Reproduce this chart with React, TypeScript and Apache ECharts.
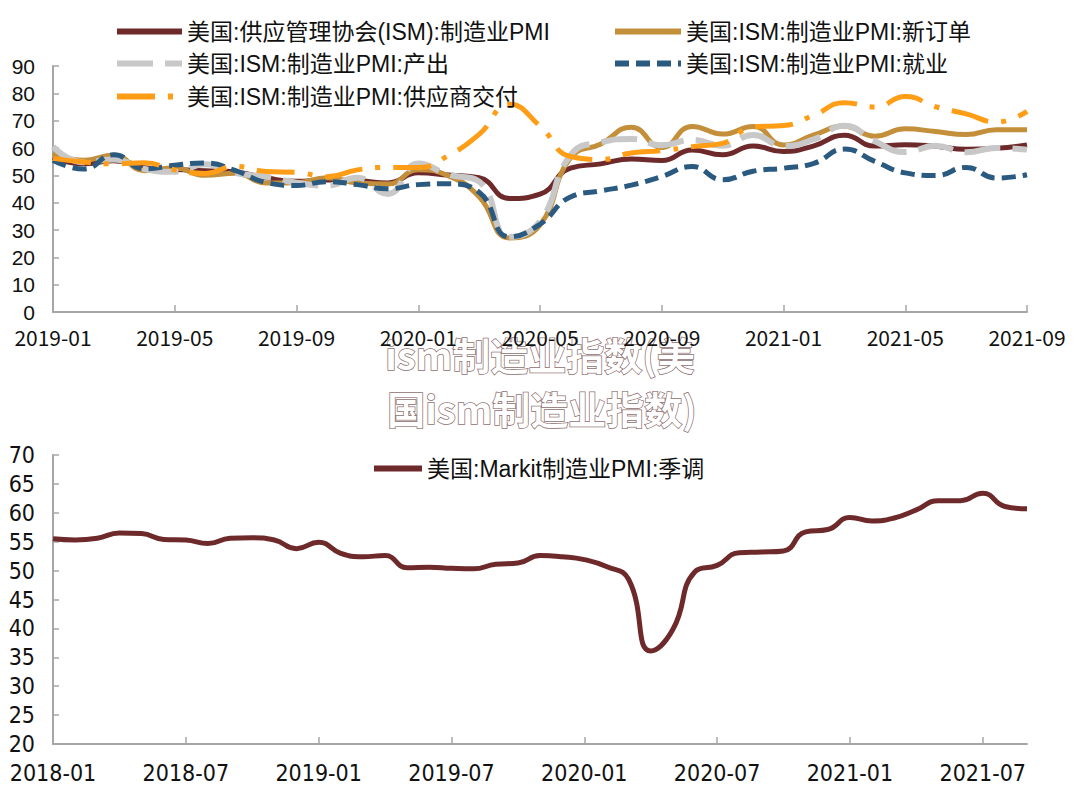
import React, { useEffect, useRef } from "react";
import * as echarts from "echarts";

// ---------- Chart 1: ISM ----------
const months1 = [
  "2019-01","2019-02","2019-03","2019-04","2019-05","2019-06","2019-07","2019-08","2019-09","2019-10","2019-11","2019-12",
  "2020-01","2020-02","2020-03","2020-04","2020-05","2020-06","2020-07","2020-08","2020-09","2020-10","2020-11","2020-12",
  "2021-01","2021-02","2021-03","2021-04","2021-05","2021-06","2021-07","2021-08","2021-09",
];
const ismPMI = [56.6,54.2,55.3,52.8,52.1,51.7,51.2,49.1,47.8,48.3,48.1,47.2,50.9,50.1,49.1,41.5,43.1,52.6,54.2,56.0,55.4,59.3,57.5,60.7,58.7,60.8,64.7,60.7,61.2,60.6,59.5,59.9,61.1];
const newOrders = [58.2,55.5,57.4,51.7,52.7,50.0,50.8,47.2,47.3,49.1,47.2,46.8,52.0,49.8,42.2,27.1,31.8,56.4,61.5,67.6,60.2,67.9,65.1,67.9,61.1,64.8,68.0,64.3,67.0,66.0,64.9,66.7,66.7];
const production = [60.5,54.8,55.8,52.3,51.3,54.1,50.8,49.5,47.3,46.2,49.1,43.2,54.3,50.3,47.7,27.5,33.2,57.3,62.1,63.3,61.0,63.0,60.8,64.8,60.7,63.2,68.1,62.5,58.5,60.8,58.4,60.0,59.4];
const employment = [55.5,52.3,57.5,52.4,53.7,54.5,51.7,47.4,46.3,47.7,46.6,45.1,46.6,46.9,43.8,27.5,32.1,42.1,44.3,46.4,49.6,53.2,48.4,51.5,52.6,54.4,59.6,55.1,50.9,49.9,52.9,49.0,50.2];
const supplierDeliveries = [56.2,54.9,54.2,54.6,52.0,50.7,53.3,51.4,51.1,49.5,52.0,52.9,52.9,57.3,65.0,76.0,68.0,56.9,55.8,58.2,59.0,60.5,61.7,67.7,68.2,72.0,76.6,75.0,78.8,75.1,72.5,69.5,73.4];

// ---------- Chart 2: Markit ----------
const months2 = [
  "2018-01","2018-02","2018-03","2018-04","2018-05","2018-06","2018-07","2018-08","2018-09","2018-10","2018-11","2018-12",
  "2019-01","2019-02","2019-03","2019-04","2019-05","2019-06","2019-07","2019-08","2019-09","2019-10","2019-11","2019-12",
  "2020-01","2020-02","2020-03","2020-04","2020-05","2020-06","2020-07","2020-08","2020-09","2020-10","2020-11","2020-12",
  "2021-01","2021-02","2021-03","2021-04","2021-05","2021-06","2021-07","2021-08","2021-09",
];
const markitPMI = [55.5,55.3,55.6,56.5,56.4,55.4,55.3,54.7,55.6,55.7,55.3,53.8,54.9,53.0,52.4,52.6,50.5,50.6,50.4,50.3,51.1,51.3,52.6,52.4,51.9,50.7,48.5,36.1,39.8,49.8,50.9,53.1,53.2,53.4,56.7,57.1,59.2,58.6,59.1,60.5,62.1,62.1,63.4,61.1,60.7];

const N_PMI = "美国:供应管理协会(ISM):制造业PMI";
const N_NEW = "美国:ISM:制造业PMI:新订单";
const N_PROD = "美国:ISM:制造业PMI:产出";
const N_EMP = "美国:ISM:制造业PMI:就业";
const N_SUP = "美国:ISM:制造业PMI:供应商交付";
const N_MARKIT = "美国:Markit制造业PMI:季调";

const watermark1 = "ism制造业指数(美";
const watermark2 = "国ism制造业指数)";

const C_MAROON = "#6E2A2B";
const C_GOLD = "#C38F3A";
const C_GRAY = "#C8C8C8";
const C_BLUE = "#2B5A80";
const C_ORANGE = "#FF9D17";

const AXIS_GRAY = "#A6A6A6";
const LATIN_CJK = "'Liberation Sans', 'Noto Sans CJK SC', sans-serif";
const NARROW = "'Liberation Sans Narrow', 'DejaVu Sans Condensed', 'Liberation Sans', sans-serif";

function legendFor(name: string, left: number, top: number, width: number, type: any, w = 6) {
  return {
    data: [name],
    left,
    top,
    padding: 0,
    itemWidth: width,
    itemHeight: 14,
    selectedMode: false,
    itemStyle: { opacity: 0, borderWidth: 0 },
    lineStyle: { width: w, type, opacity: 1 },
    textStyle: { fontSize: 23, color: "#111", fontFamily: LATIN_CJK },
  };
}

export default function App() {
  const ref = useRef<HTMLDivElement>(null);
  useEffect(() => {
    if (!ref.current) return;
    const chart = echarts.init(ref.current, null, { renderer: "svg" });
    const dashProd = [36, 12];
    const dashEmp = [14, 7];
    const dashSup = [38, 13, 5, 13];
    const mkLine = (name: string, data: number[], color: string, width: number, type: any, axis: number) => ({
      name,
      type: "line",
      data,
      xAxisIndex: axis,
      yAxisIndex: axis,
      smooth: true,
      symbol: "none",
      itemStyle: { color: "rgba(0,0,0,0)" },
      lineStyle: { color, width, type },
    });
    chart.setOption({
      animation: false,
      backgroundColor: "#fff",
      grid: [
        { left: 53, right: 53, top: 66, height: 246 },
        { left: 53, right: 53, top: 455, height: 289 },
      ],
      legend: [
        legendFor(N_PMI, 114, 20, 65, "solid"),
        legendFor(N_NEW, 612, 20, 66, "solid"),
        legendFor(N_PROD, 114, 52, 65, dashProd),
        legendFor(N_EMP, 612, 52, 66, dashEmp),
        legendFor(N_SUP, 114, 85, 65, dashSup),
        legendFor(N_MARKIT, 371, 457, 48, "solid"),
      ],
      xAxis: [
        {
          type: "category",
          gridIndex: 0,
          data: months1,
          boundaryGap: false,
          axisLine: { lineStyle: { color: AXIS_GRAY, width: 2 } },
          axisTick: { inside: true, interval: 3, length: 7, lineStyle: { color: AXIS_GRAY, width: 1.5 } },
          axisLabel: { interval: 3, fontSize: 21, color: "#111", fontFamily: "'Noto Sans CJK SC', sans-serif", margin: 14 },
          splitLine: { show: false },
        },
        {
          type: "category",
          gridIndex: 1,
          data: months2,
          boundaryGap: false,
          axisLine: { lineStyle: { color: AXIS_GRAY, width: 2 } },
          axisTick: { inside: true, interval: 5, length: 7, lineStyle: { color: AXIS_GRAY, width: 1.5 } },
          axisLabel: { interval: 5, fontSize: 23, color: "#111", fontFamily: NARROW, margin: 17 },
          splitLine: { show: false },
        },
      ],
      yAxis: [
        {
          type: "value",
          gridIndex: 0,
          min: 0,
          max: 90,
          interval: 10,
          axisLine: { show: true, lineStyle: { color: AXIS_GRAY, width: 2 } },
          axisTick: { show: true, inside: true, length: 6, lineStyle: { color: AXIS_GRAY, width: 1.5 } },
          axisLabel: { fontSize: 21, color: "#111", fontFamily: LATIN_CJK, margin: 18 },
          splitLine: { show: false },
        },
        {
          type: "value",
          gridIndex: 1,
          min: 20,
          max: 70,
          interval: 5,
          axisLine: { show: true, lineStyle: { color: AXIS_GRAY, width: 2 } },
          axisTick: { show: true, inside: true, length: 6, lineStyle: { color: AXIS_GRAY, width: 1.5 } },
          axisLabel: { fontSize: 23, color: "#111", fontFamily: NARROW, margin: 18 },
          splitLine: { show: false },
        },
      ],
      series: [
        mkLine(N_PMI, ismPMI, C_MAROON, 5, "solid", 0),
        mkLine(N_NEW, newOrders, C_GOLD, 5, "solid", 0),
        mkLine(N_PROD, production, C_GRAY, 6, dashProd, 0),
        mkLine(N_EMP, employment, C_BLUE, 5, dashEmp, 0),
        mkLine(N_SUP, supplierDeliveries, C_ORANGE, 5, dashSup, 0),
        mkLine(N_MARKIT, markitPMI, C_MAROON, 5, "solid", 1),
      ],
      graphic: [
        {
          type: "text",
          x: 540,
          y: 353,
          z: -10,
          style: {
            text: watermark1,
            fontSize: 38,
            fontWeight: "bold",
            fontFamily: "'Noto Sans CJK SC', sans-serif",
            fill: "#fff",
            stroke: "#8E7070",
            lineWidth: 1.5,
            textAlign: "center",
            textVerticalAlign: "middle",
            textShadowColor: "#C4ADAD",
            textShadowOffsetX: 3,
            textShadowOffsetY: 3,
            textShadowBlur: 0,
          },
        },
        {
          type: "text",
          x: 542,
          y: 407,
          z: -10,
          style: {
            text: watermark2,
            fontSize: 38,
            fontWeight: "bold",
            fontFamily: "'Noto Sans CJK SC', sans-serif",
            fill: "#fff",
            stroke: "#8E7070",
            lineWidth: 1.5,
            textAlign: "center",
            textVerticalAlign: "middle",
            textShadowColor: "#C4ADAD",
            textShadowOffsetX: 3,
            textShadowOffsetY: 3,
            textShadowBlur: 0,
          },
        },
      ],
    });
    return () => chart.dispose();
  }, []);
  return <div ref={ref} style={{ position: "absolute", left: 0, top: 0, width: 1080, height: 801 }} />;
}
